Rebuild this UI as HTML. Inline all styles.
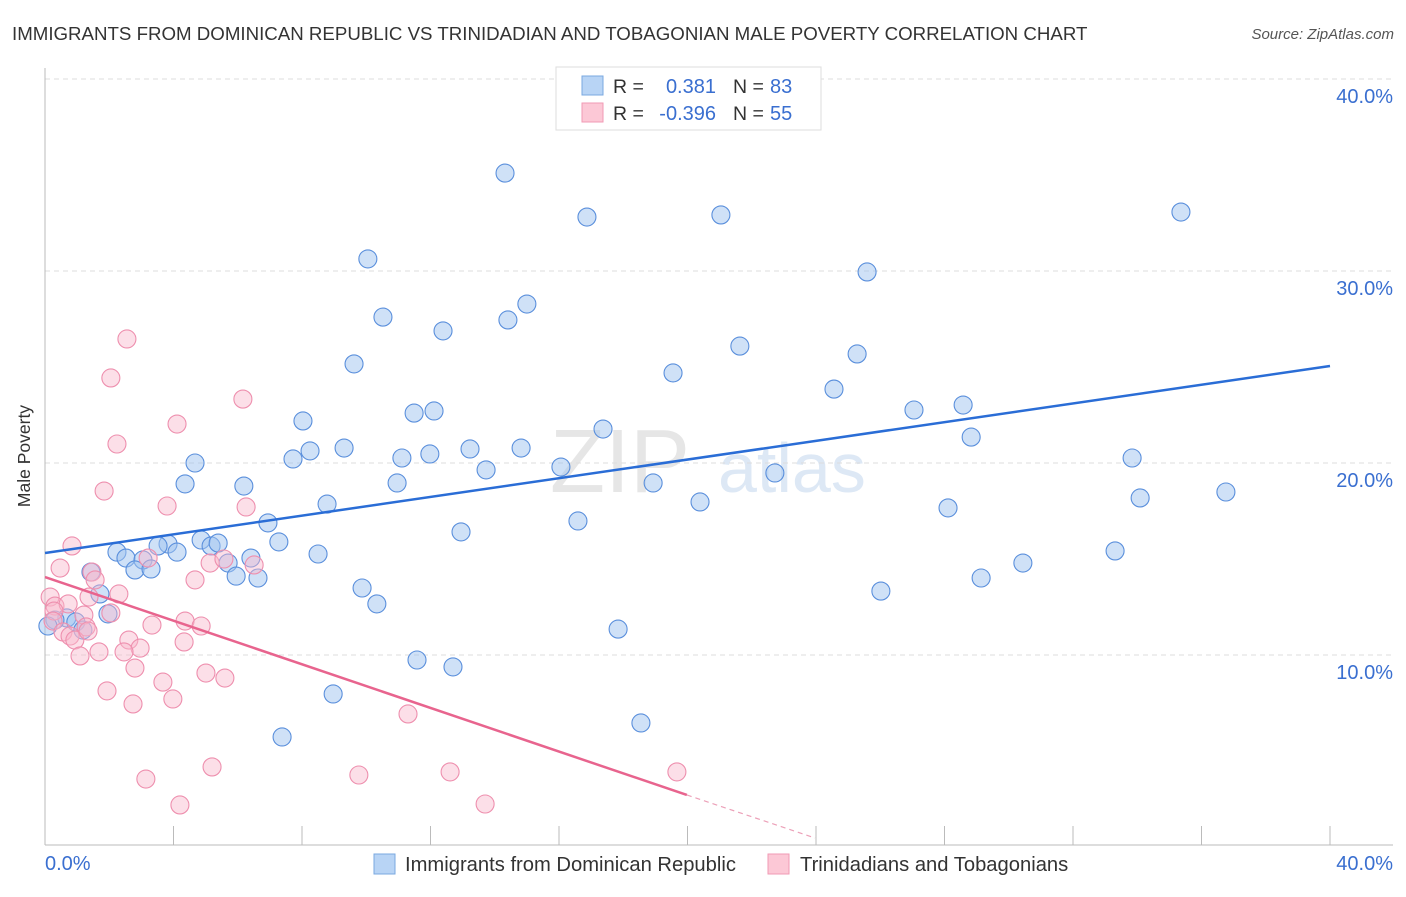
<!DOCTYPE html>
<html><head><meta charset="utf-8"><style>
body{margin:0;background:#fff;font-family:"Liberation Sans",sans-serif}
svg text{font-family:"Liberation Sans",sans-serif}
</style></head><body>
<svg id="c" width="1406" height="892" xmlns="http://www.w3.org/2000/svg">
<text x="12" y="40" font-size="18.7" fill="#333">IMMIGRANTS FROM DOMINICAN REPUBLIC VS TRINIDADIAN AND TOBAGONIAN MALE POVERTY CORRELATION CHART</text>
<text x="1394" y="39" font-size="15" fill="#555" font-style="italic" text-anchor="end">Source: ZipAtlas.com</text>
<text x="690" y="492" font-size="90" fill="#e6e6e6" text-anchor="end" font-family="Liberation Serif">ZIP</text>
<text x="718" y="492" font-size="70" fill="#dde8f5">atlas</text>
<g id="grid"></g><g id="axes"></g><g id="pts"></g><g id="lines"></g>
<text x="30" y="456" font-size="17.5" fill="#333" text-anchor="middle" transform="rotate(-90 30 456)">Male Poverty</text>
<g>
<rect x="556" y="67" width="265" height="63" fill="#fff" stroke="#ddd"/>
<rect x="582" y="76" width="21" height="19" fill="#b8d4f5" stroke="#7aa8e0"/>
<rect x="582" y="103" width="21" height="19" fill="#fcc8d6" stroke="#f19ab4"/>
<text x="613" y="93" font-size="19.5" fill="#333">R =</text><text x="716" y="93" font-size="20" fill="#3a6fd0" text-anchor="end">0.381</text>
<text x="733" y="93" font-size="19.5" fill="#333">N =</text><text x="770" y="93" font-size="20" fill="#3a6fd0">83</text>
<text x="613" y="120" font-size="19.5" fill="#333">R =</text><text x="716" y="120" font-size="20" fill="#3a6fd0" text-anchor="end">-0.396</text>
<text x="733" y="120" font-size="19.5" fill="#333">N =</text><text x="770" y="120" font-size="20" fill="#3a6fd0">55</text>
</g>
<g>
<rect x="374" y="854" width="21" height="20" fill="#b8d4f5" stroke="#7aa8e0"/>
<text x="405" y="871" font-size="20.2" fill="#333">Immigrants from Dominican Republic</text>
<rect x="768" y="854" width="21" height="20" fill="#fcc8d6" stroke="#f19ab4"/>
<text x="800" y="871" font-size="20.2" fill="#333">Trinidadians and Tobagonians</text>
</g>
</svg>
<script>
const blueX=[14.32,16.87,21.04,35.36,10.05,25.59,10.52,15.00,14.41,12.39,21.63,25.28,9.62,19.55,24.56,11.49,12.11,27.05,28.58,8.03,17.37,28.83,7.72,8.25,9.31,11.11,11.98,13.23,14.82,33.84,4.67,13.73,16.06,22.72,4.36,6.19,10.96,18.93,34.09,36.76,20.39,8.78,28.11,6.94,16.59,12.95,7.28,4.86,3.83,3.52,5.17,5.39,2.24,4.11,8.50,33.31,2.52,3.05,6.41,5.70,30.44,2.80,3.30,5.95,6.63,29.14,1.43,9.87,26.02,1.71,10.33,1.96,0.68,0.31,0.09,0.96,1.18,17.84,11.58,12.70,8.97,18.55,7.38];
const blueY=[35.10,32.81,32.92,33.07,30.63,29.95,27.60,28.28,27.45,26.88,26.09,25.68,25.16,24.69,23.85,22.60,22.71,22.76,23.02,22.19,21.77,21.35,20.21,20.63,20.78,20.26,20.47,20.73,20.78,20.26,20.0,19.64,19.79,19.48,18.91,18.80,18.96,18.96,18.18,18.49,17.97,17.86,17.66,16.88,16.98,16.41,15.89,15.99,15.78,15.68,15.68,15.83,15.36,15.36,15.26,15.42,15.05,14.95,15.05,14.79,14.79,14.43,14.48,14.11,14.01,14.01,14.32,13.49,13.33,13.18,12.66,12.14,11.93,11.82,11.51,11.72,11.30,11.35,9.74,9.38,7.97,6.46,5.73];
const pinkX=[2.55,2.05,4.11,6.16,2.24,1.84,3.80,6.26,0.84,3.21,0.47,5.14,5.57,6.51,1.46,1.56,4.67,2.30,1.37,0.16,0.31,0.72,0.28,2.05,1.21,0.25,4.36,3.33,4.86,1.28,0.56,0.78,0.93,2.61,2.96,4.33,2.46,1.68,1.09,2.80,5.01,5.60,3.67,1.93,3.98,2.74,11.30,5.20,3.14,9.77,12.61,19.67,4.20,13.70,1.34];
const pinkY=[26.46,24.43,22.03,23.33,20.99,18.54,17.76,17.71,15.68,15.05,14.53,14.79,15.0,14.69,14.32,13.91,13.91,13.18,13.02,13.02,12.55,12.66,12.29,12.19,12.08,11.77,11.77,11.56,11.51,11.46,11.20,10.99,10.78,10.78,10.36,10.68,10.16,10.16,9.95,9.32,9.06,8.80,8.59,8.13,7.71,7.45,6.93,4.17,3.54,3.75,3.91,3.91,2.19,2.24,11.25];
const blueTrend=[15.31,25.05];
const pinkTrend=[14.06,2.71,0.47];
const pinkTrendX=[0,19.98,23.97];
const yTicks=[10,20,30,40];
const yTickLabels=["10.0%","20.0%","30.0%","40.0%"];
const xTicks=[4,8,12,16,20,24,28,32,36,40];
const NS="http://www.w3.org/2000/svg";
const sx=v=>45+v*32.125, sy=v=>847-v*19.2;
function mk(t,a,p){const e=document.createElementNS(NS,t);for(const k in a)e.setAttribute(k,a[k]);document.getElementById(p).appendChild(e);return e;}
yTicks.forEach((t,i)=>{
 const g=mk('line',{x1:45,x2:1393,y1:sy(t),y2:sy(t),stroke:'#ddd','stroke-dasharray':'5,4'},'grid');
 
 
 const l=mk('text',{x:1393,y:sy(t)+24,'font-size':20,fill:'#3a6fd0','text-anchor':'end'},'grid');
 l.textContent=yTickLabels[i];
 
 
});
let a=mk('line',{x1:45,x2:45,y1:68,y2:845,stroke:'#bbb'},'axes');


a=mk('line',{x1:45,x2:1393,y1:845,y2:845,stroke:'#bbb'},'axes');


xTicks.forEach(t=>{const e=mk('line',{x1:sx(t),x2:sx(t),y1:826,y2:845,stroke:'#bbb'},'axes');
 
 });
let xl=mk('text',{x:45,y:870,'font-size':20,fill:'#3a6fd0'},'axes');xl.textContent='0.0%';


xl=mk('text',{x:1393,y:870,'font-size':20,fill:'#3a6fd0','text-anchor':'end'},'axes');xl.textContent='40.0%';


blueX.forEach((x,i)=>{const c=mk('circle',{cx:sx(x),cy:sy(blueY[i]),r:9,fill:'rgba(160,196,240,0.5)',stroke:'#5a8fdc','stroke-width':1.1},'pts');
 
 });
pinkX.forEach((x,i)=>{const c=mk('circle',{cx:sx(x),cy:sy(pinkY[i]),r:9,fill:'rgba(248,184,204,0.45)',stroke:'#ee8fae','stroke-width':1.1},'pts');
 
 });
let t=mk('line',{x1:sx(0),y1:sy(blueTrend[0]),x2:sx(40),y2:sy(blueTrend[1]),stroke:'#2a6dd6','stroke-width':2.5},'lines');


t=mk('line',{x1:sx(pinkTrendX[0]),y1:sy(pinkTrend[0]),x2:sx(pinkTrendX[1]),y2:sy(pinkTrend[1]),stroke:'#e8648e','stroke-width':2.5},'lines');


t=mk('line',{x1:sx(pinkTrendX[1]),y1:sy(pinkTrend[1]),x2:sx(pinkTrendX[2]),y2:sy(pinkTrend[2]),stroke:'#eca0b8','stroke-width':1.2,'stroke-dasharray':'5,4'},'lines');


</script>
</body></html>
